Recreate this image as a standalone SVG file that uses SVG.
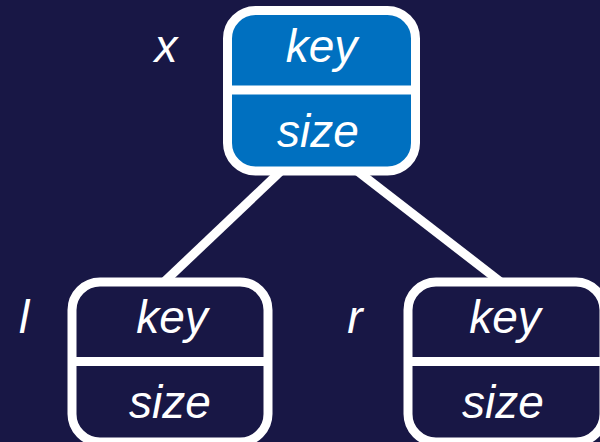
<svg xmlns="http://www.w3.org/2000/svg" width="600" height="442" viewBox="0 0 600 442">
<style>
.bg{fill:#181745}
.edge{stroke:#ffffff;stroke-width:9;fill:none}
.box{stroke:#ffffff;stroke-width:9}
.div{stroke:#ffffff;stroke-width:9}
.t{font-family:"Liberation Sans",Arial,sans-serif;font-style:italic;font-size:46px;fill:#ffffff;text-anchor:middle}
</style>
<rect class="bg" x="0" y="0" width="600" height="442"/>
<g id="connectors">
<line class="edge" x1="282" y1="170" x2="163" y2="283"/>
<line class="edge" x1="356" y1="170" x2="502" y2="283"/>
</g>
<g id="node-x">
<rect class="box" x="227.5" y="10.5" width="188" height="160.5" rx="28" fill="#0070c0"/>
<line class="div" x1="227.5" y1="90" x2="415.5" y2="90"/>
<text class="t" x="321.5" y="62">key</text>
<text class="t" x="318" y="147">size</text>
<text class="t" x="166" y="62">x</text>
</g>
<g id="node-l">
<rect class="box" x="72" y="282" width="196" height="160" rx="28" fill="#181745"/>
<line class="div" x1="72" y1="361.5" x2="268" y2="361.5"/>
<text class="t" x="172" y="333">key</text>
<text class="t" x="170" y="418">size</text>
<text class="t" x="24" y="333">l</text>
</g>
<g id="node-r">
<rect class="box" x="408" y="282" width="196" height="160" rx="28" fill="#181745"/>
<line class="div" x1="408" y1="361.5" x2="604" y2="361.5"/>
<text class="t" x="505" y="333">key</text>
<text class="t" x="503" y="418">size</text>
<text class="t" x="355" y="333">r</text>
</g>
</svg>
